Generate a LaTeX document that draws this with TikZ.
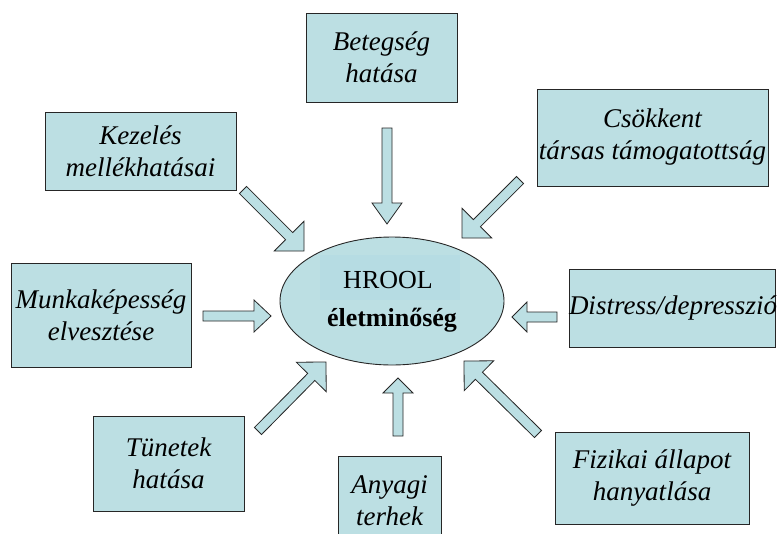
\documentclass[tikz,border=0pt]{standalone}
\usepackage{fontspec}
\setmainfont{Liberation Serif}
\usetikzlibrary{calc,shapes.geometric}
\definecolor{boxfill}{HTML}{BCDFE3}
\definecolor{innerfill}{HTML}{B6DCE3}
\definecolor{edgecol}{HTML}{262626}
\tikzset{
  box/.style={draw=edgecol, line width=0.9pt, fill=boxfill, inner sep=0pt, align=center,
    font=\fontsize{27}{32}\selectfont\itshape},
  boxtext/.style={inner sep=0pt, align=center, font=\fontsize{27}{32}\selectfont\itshape},
  blk/.style={draw=edgecol, line width=0.8pt, fill=boxfill, line join=miter},
  centertext/.style={inner sep=0pt, font=\fontsize{26}{30}\selectfont},
}
\newcommand{\blockarrow}[5]{%
  \coordinate (ba-h) at ($(#2)!#5!(#1)$);
  \draw[blk] ($(#1)!#3!90:(#2)$) -- ($(ba-h)!#3!-90:(#1)$) -- ($(ba-h)!#4!-90:(#1)$)
    -- (#2) -- ($(ba-h)!#4!90:(#1)$) -- ($(ba-h)!#3!90:(#1)$) -- ($(#1)!#3!-90:(#2)$) -- cycle;
}
\begin{document}
\begin{tikzpicture}[x=1pt,y=-1pt]
\useasboundingbox (0,0) rectangle (779,533);
\clip (0,0) rectangle (779,533);
\fill[white] (0,0) rectangle (779,533);

% boxes
\node[box, minimum width=151pt, minimum height=89pt] (bet) at (381.5,57.5) {Betegség\\hatása};
\node[box, minimum width=191pt, minimum height=78pt] (kez) at (140.5,151.5) {Kezelés\\mellékhatásai};
\node[box, minimum width=231pt, minimum height=97pt] (cso) at (652.5,137.5) {Csökkent\\társas támogatottság};
\node[box, minimum width=180pt, minimum height=104pt] (mun) at (101,315) {Munkaképesség\\elvesztése};
\node[box, minimum width=206pt, minimum height=78pt] (dis) at (672,308) {};
\node[boxtext] (distext) at (673,308) {Distress/depresszió};
\node[box, minimum width=151pt, minimum height=95pt] (tun) at (168.5,463.5) {Tünetek\\hatása};
\node[box, minimum width=103pt, minimum height=89pt] (any) at (389.5,500.5) {Anyagi\\terhek};
\node[box, minimum width=194pt, minimum height=92pt] (fiz) at (652,478) {Fizikai állapot\\hanyatlása};

% centre ellipse
\node[draw=edgecol, line width=0.9pt, fill=boxfill, ellipse, inner sep=0pt,
  minimum width=224pt, minimum height=128pt] (hq) at (392,301) {};
\fill[innerfill] (320,255) rectangle (460,300);
\node[centertext] (hrool) at (388,280) {HROOL};
\node[centertext, font=\fontsize{26}{30}\selectfont\bfseries] (elet) at (392,320) {életminőség};

% block arrows
\coordinate (t1) at (387,128); \coordinate (e1) at (387,224);
\blockarrow{t1}{e1}{5pt}{15pt}{21pt}
\coordinate (t2) at (243,190); \coordinate (e2) at (304,251);
\blockarrow{t2}{e2}{5pt}{21pt}{21pt}
\coordinate (t3) at (520,180); \coordinate (e3) at (462,238);
\blockarrow{t3}{e3}{5pt}{21pt}{21pt}
\coordinate (t4) at (203,316); \coordinate (e4) at (271,316);
\blockarrow{t4}{e4}{5pt}{16pt}{17pt}
\coordinate (t5) at (557,317); \coordinate (e5) at (512,317);
\blockarrow{t5}{e5}{5pt}{15pt}{15pt}
\coordinate (t6) at (258,431); \coordinate (e6) at (326,362);
\blockarrow{t6}{e6}{5pt}{21pt}{21pt}
\coordinate (t7) at (398,436); \coordinate (e7) at (398,378);
\blockarrow{t7}{e7}{5pt}{15pt}{15pt}
\coordinate (t8) at (538,434); \coordinate (e8) at (464,361);
\blockarrow{t8}{e8}{5pt}{21pt}{21pt}
\end{tikzpicture}
\end{document}
